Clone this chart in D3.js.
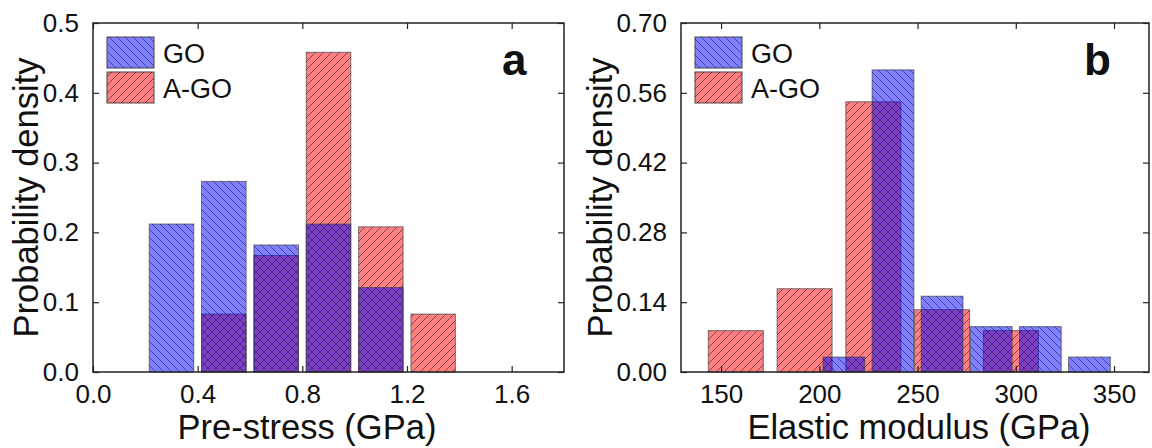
<!DOCTYPE html>
<html>
<head>
<meta charset="utf-8">
<script src="https://cdn.jsdelivr.net/npm/d3@7"></script>
<style>
  body { margin: 0; background: #fff; }
  svg text { font-family: "Liberation Sans", Arial, sans-serif; fill: #111; }
</style>
</head>
<body>
<svg id="chart" width="1152" height="448"></svg>
<script>
// panel a: pre-stress
const aGoCenters = [0.3, 0.5, 0.7, 0.9, 1.1];
const aGoValues = [0.212, 0.273, 0.182, 0.212, 0.121];
const aAgoCenters = [0.5, 0.7, 0.9, 1.1, 1.3];
const aAgoValues = [0.083, 0.167, 0.458, 0.208, 0.083];
const aBinWidth = 0.2;
const aXTicks = [0.0, 0.4, 0.8, 1.2, 1.6];
const aYTicks = [0.0, 0.1, 0.2, 0.3, 0.4, 0.5];

// panel b: elastic modulus
const bGoCenters = [212.5, 237.5, 262.5, 287.5, 312.5, 337.5];
const bGoValues = [0.030, 0.606, 0.152, 0.091, 0.091, 0.030];
const bGoBinWidth = 25;
const bAgoCenters = [157.5, 192.5, 227.5, 262.5, 297.5];
const bAgoValues = [0.083, 0.167, 0.542, 0.125, 0.083];
const bAgoBinWidth = 35;
const bXTicks = [150, 200, 250, 300, 350];
const bYTicks = [0.00, 0.14, 0.28, 0.42, 0.56, 0.70];

const seriesNames = ["GO", "A-GO"];

const svg = d3.select("#chart");

// hatch patterns
const defs = svg.append("defs");
function hatch(id, d) {
  defs.append("pattern")
    .attr("id", id)
    .attr("patternUnits", "userSpaceOnUse")
    .attr("width", 8)
    .attr("height", 8)
    .append("path")
    .attr("d", d)
    .attr("stroke", "#1a1a40")
    .attr("stroke-width", 0.8)
    .attr("stroke-opacity", 0.7);
}
hatch("hatchBack", "M0,0L8,8M-1,7L1,9M7,-1L9,1");   // GO  "\"
hatch("hatchFwd", "M0,8L8,0M-1,1L1,-1M7,9L9,7");    // A-GO "/"

const goFill = "rgba(0,0,255,0.5)";
const agoFill = "rgba(255,0,0,0.5)";

function drawPanel(p) {
  const g = svg.append("g");
  const x = d3.scaleLinear().domain(p.xDomain).range([p.left, p.right]);
  const y = d3.scaleLinear().domain(p.yDomain).range([p.bottom, p.top]);

  // bars: A-GO first, GO on top
  function bars(centers, values, binW, frac, fill, pat) {
    const data = centers.map((c, i) => ({ c: c, v: values[i] }));
    const w = binW * frac;
    const sel = g.append("g").selectAll("g").data(data).enter().append("g");
    sel.append("rect")
      .attr("x", d => x(d.c - w / 2))
      .attr("y", d => y(d.v))
      .attr("width", d => x(d.c + w / 2) - x(d.c - w / 2))
      .attr("height", d => y(0) - y(d.v))
      .attr("fill", fill)
      .attr("stroke", "#444")
      .attr("stroke-opacity", 0.7)
      .attr("stroke-width", 1);
    sel.append("rect")
      .attr("x", d => x(d.c - w / 2))
      .attr("y", d => y(d.v))
      .attr("width", d => x(d.c + w / 2) - x(d.c - w / 2))
      .attr("height", d => y(0) - y(d.v))
      .attr("fill", "url(#" + pat + ")");
  }
  bars(p.agoCenters, p.agoValues, p.agoBinW, p.agoFrac, agoFill, "hatchFwd");
  bars(p.goCenters, p.goValues, p.goBinW, p.goFrac, goFill, "hatchBack");

  // axes with inward ticks on all four sides
  const tl = 6;
  g.append("g").attr("transform", "translate(0," + p.bottom + ")")
    .call(d3.axisBottom(x).tickValues(p.xTicks).tickFormat(p.xFmt).tickSizeInner(-tl).tickSizeOuter(0).tickPadding(tl + 6))
    .call(ax => ax.selectAll("text").attr("font-size", 26).attr("dy", "0.72em"));
  g.append("g").attr("transform", "translate(0," + p.top + ")")
    .call(d3.axisTop(x).tickValues(p.xTicks).tickFormat("").tickSizeInner(-tl).tickSizeOuter(0));
  g.append("g").attr("transform", "translate(" + p.left + ",0)")
    .call(d3.axisLeft(y).tickValues(p.yTicks).tickFormat(p.yFmt).tickSizeInner(-tl).tickSizeOuter(0).tickPadding(tl + 8))
    .call(ax => ax.selectAll("text").attr("font-size", 26));
  g.append("g").attr("transform", "translate(" + p.right + ",0)")
    .call(d3.axisRight(y).tickValues(p.yTicks).tickFormat("").tickSizeInner(-tl).tickSizeOuter(0));
  g.selectAll(".domain").remove();
  g.selectAll(".tick line").attr("stroke", "#222").attr("stroke-width", 1.2);

  // frame
  g.append("rect")
    .attr("x", p.left).attr("y", p.top)
    .attr("width", p.right - p.left).attr("height", p.bottom - p.top)
    .attr("fill", "none").attr("stroke", "#222").attr("stroke-width", 1.5);

  // axis titles
  g.append("text")
    .attr("x", p.xTitleX).attr("y", 439)
    .attr("text-anchor", "middle").attr("font-size", 34.5)
    .text(p.xTitle);
  g.append("text")
    .attr("transform", "translate(" + p.yTitleX + "," + ((p.top + p.bottom) / 2) + ") rotate(-90)")
    .attr("text-anchor", "middle").attr("font-size", 34.5)
    .text("Probability density");

  // panel letter
  g.append("text")
    .attr("x", p.letterX).attr("y", 75)
    .attr("font-size", 44).attr("font-weight", "bold")
    .text(p.letter);

  // legend
  const lx = p.left + 14;
  const leg = [
    { name: seriesNames[0], fill: goFill, pat: "hatchBack", y: 37 },
    { name: seriesNames[1], fill: agoFill, pat: "hatchFwd", y: 72 }
  ];
  leg.forEach(l => {
    g.append("rect").attr("x", lx).attr("y", l.y).attr("width", 47).attr("height", 31)
      .attr("fill", l.fill).attr("stroke", "#444").attr("stroke-width", 1);
    g.append("rect").attr("x", lx).attr("y", l.y).attr("width", 47).attr("height", 31)
      .attr("fill", "url(#" + l.pat + ")");
    g.append("text").attr("x", lx + 56).attr("y", l.y + 25.5)
      .attr("font-size", 27).text(l.name);
  });
}

drawPanel({
  left: 93, right: 564, top: 23, bottom: 372,
  xDomain: [0, 1.8], yDomain: [0, 0.5],
  xTicks: aXTicks, yTicks: aYTicks,
  xFmt: d3.format(".1f"), yFmt: d3.format(".1f"),
  goCenters: aGoCenters, goValues: aGoValues, goBinW: aBinWidth, goFrac: 0.85,
  agoCenters: aAgoCenters, agoValues: aAgoValues, agoBinW: aBinWidth, agoFrac: 0.85,
  xTitle: "Pre-stress (GPa)", xTitleX: 307, yTitleX: 38,
  letter: "a", letterX: 502
});

drawPanel({
  left: 681, right: 1149, top: 23, bottom: 372,
  xDomain: [129.6, 367.8], yDomain: [0, 0.70],
  xTicks: bXTicks, yTicks: bYTicks,
  xFmt: d3.format("d"), yFmt: d3.format(".2f"),
  goCenters: bGoCenters, goValues: bGoValues, goBinW: bGoBinWidth, goFrac: 0.85,
  agoCenters: bAgoCenters, agoValues: bAgoValues, agoBinW: bAgoBinWidth, agoFrac: 0.8,
  xTitle: "Elastic modulus (GPa)", xTitleX: 919, yTitleX: 612,
  letter: "b", letterX: 1084
});
</script>
</body>
</html>
